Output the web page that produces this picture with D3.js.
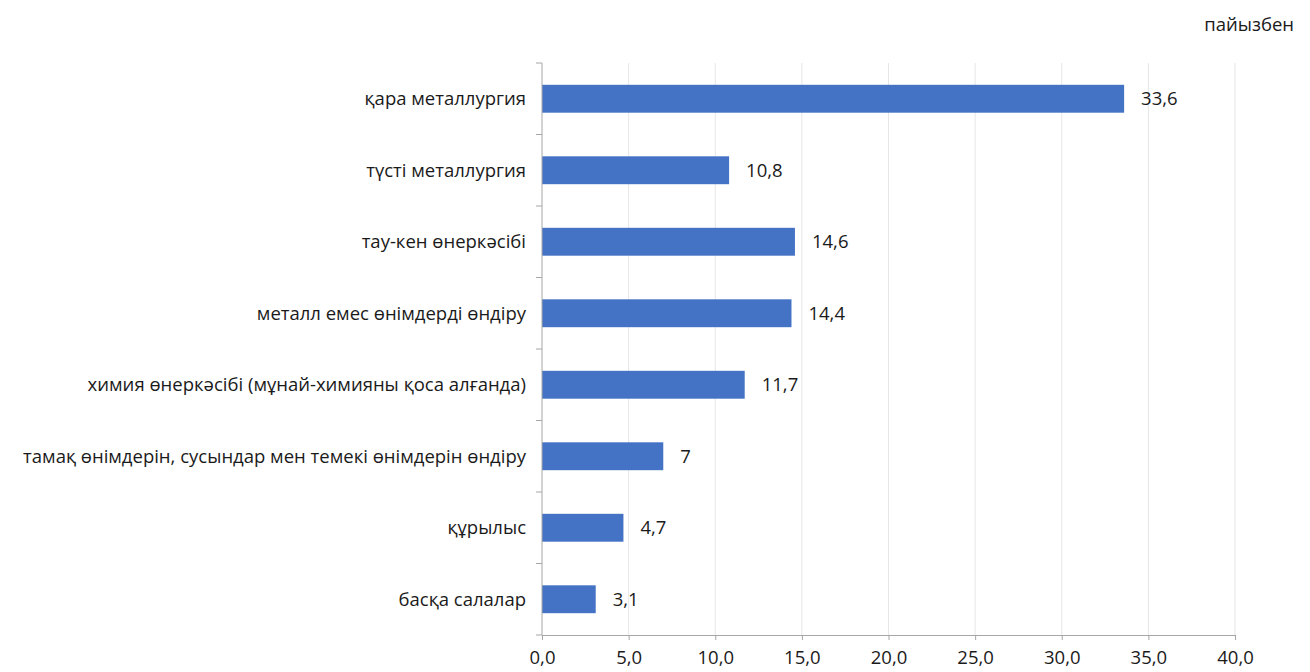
<!DOCTYPE html>
<html><head><meta charset="utf-8">
<script src="https://cdn.jsdelivr.net/npm/d3@7"></script>
<style>body{margin:0;background:#fff}svg{display:block}text{font-family:"Open Sans","Noto Sans",sans-serif;fill:#1a1a1a}</style>
</head><body>
<script>
const categories = ["қара металлургия","түсті металлургия","тау-кен өнеркәсібі","металл емес өнімдерді өндіру","химия өнеркәсібі (мұнай-химияны қоса алғанда)","тамақ өнімдерін, сусындар мен темекі өнімдерін өндіру","құрылыс","басқа салалар"];
const values = [33.6,10.8,14.6,14.4,11.7,7,4.7,3.1];
const valueLabels = ["33,6","10,8","14,6","14,4","11,7","7","4,7","3,1"];
const xTicks = [0,5,10,15,20,25,30,35,40];
const unitLabel = "пайызбен";

const W=1310,H=672, m={l:542,r:75,t:63,b:37};
const FS="18.5px";
const svg=d3.select("body").append("svg").attr("width",W).attr("height",H);
const x=d3.scaleLinear().domain([0,40]).range([m.l,W-m.r]);
const y=d3.scaleBand().domain(categories).range([m.t,H-m.b]).paddingInner(0.61).paddingOuter(0.305);
const yb=d3.scaleBand().domain(categories).range([m.t,H-m.b]);

// grid
svg.append("g").selectAll("line").data(xTicks.slice(1)).join("line")
 .attr("x1",d=>x(d)).attr("x2",d=>x(d)).attr("y1",m.t).attr("y2",H-m.b)
 .attr("stroke","#e6e6e6").attr("stroke-width",1);

// bars
svg.append("g").selectAll("rect").data(values).join("rect")
 .attr("x",x(0)).attr("y",(d,i)=>y(categories[i])).attr("width",d=>x(d)-x(0)).attr("height",y.bandwidth())
 .attr("fill","#4472C4");

// value labels
svg.append("g").selectAll("text").data(values).join("text")
 .attr("x",d=>x(d)+17).attr("y",(d,i)=>y(categories[i])+y.bandwidth()/2).attr("dy","0.35em")
 .style("font-size",FS).text((d,i)=>valueLabels[i]);

// x axis
const xa=svg.append("g").attr("transform",`translate(0,${H-m.b})`)
 .call(d3.axisBottom(x).tickValues(xTicks).tickSize(5).tickPadding(11).tickFormat(d=>d3.format(".1f")(d).replace(".",",")));
xa.select(".domain").attr("stroke","#a6a6a6");
xa.selectAll(".tick line").attr("stroke","#a6a6a6");
xa.selectAll("text").style("font-size",FS).attr("fill","#1a1a1a").style("font-family","'Open Sans',sans-serif");

// y axis
const ya=svg.append("g").attr("transform",`translate(${m.l},0)`);
ya.append("line").attr("x1",0).attr("x2",0).attr("y1",m.t).attr("y2",H-m.b).attr("stroke","#a6a6a6");
const bounds=categories.map(c=>yb(c)).concat([H-m.b]);
ya.selectAll("line.tk").data(bounds).join("line").attr("class","tk")
 .attr("x1",-6).attr("x2",0).attr("y1",d=>d).attr("y2",d=>d).attr("stroke","#a6a6a6");
ya.selectAll("text").data(categories).join("text")
 .attr("x",-16).attr("y",d=>yb(d)+yb.bandwidth()/2).attr("dy","0.35em").attr("text-anchor","end")
 .style("font-size",FS).text(d=>d);

svg.append("text").attr("x",1294).attr("y",31).attr("text-anchor","end").style("font-size",FS).text(unitLabel);
</script>
</body></html>
